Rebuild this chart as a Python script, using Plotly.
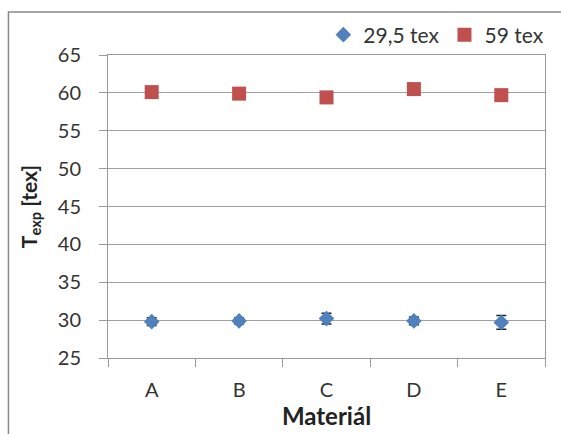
import plotly.graph_objects as go

categories = ["A", "B", "C", "D", "E"]
tex29_vals = [29.8, 29.9, 30.2, 29.9, 29.7]
tex29_err = [0.5, 0.4, 0.7, 0.5, 0.9]
tex59_vals = [60.1, 59.9, 59.4, 60.5, 59.7]
tex59_err = [0.3, 0.3, 0.3, 0.3, 0.3]

W, H = 561, 434
L, R, T, B = 108, 14, 55, 76
pw, ph = W - L - R, H - T - B

fig = go.Figure()
fig.add_trace(go.Scatter(
    x=categories, y=tex29_vals, mode="markers", name="29,5 tex",
    marker=dict(symbol="diamond", size=12, color="#4F81BD"),
    error_y=dict(type="data", array=tex29_err, color="#222222", thickness=1.5, width=5),
))
fig.add_trace(go.Scatter(
    x=categories, y=tex59_vals, mode="markers", name="59 tex",
    marker=dict(symbol="square", size=14, color="#C0504D"),
    error_y=dict(type="data", array=tex59_err, color="#222222", thickness=1.5, width=5),
))

font = "Lato, 'Open Sans', sans-serif"
fig.update_layout(
    width=W, height=H,
    margin=dict(l=L, r=R, t=T, b=B),
    paper_bgcolor="white", plot_bgcolor="white",
    font=dict(family=font, size=20, color="#333333"),
    showlegend=True,
    legend=dict(orientation="h", x=1.01, xanchor="right", y=(H - B - 35) / ph, yanchor="middle",
                font=dict(size=21), itemwidth=30, tracegroupgap=0, bgcolor="rgba(0,0,0,0)"),
    xaxis=dict(
        type="category", showgrid=False, ticks="outside", tickson="boundaries",
        ticklen=8, tickcolor="#999999", showline=True, linecolor="#999999", linewidth=1,
        mirror=True, range=[-0.5, 4.5], ticklabelstandoff=14,
        title=dict(text="<b>Materiál</b>", font=dict(size=24, color="#222222"), standoff=2),
    ),
    yaxis=dict(
        range=[25, 65], dtick=5, showgrid=True, gridcolor="#a0a0a0", gridwidth=1,
        ticks="outside", ticklen=8, tickcolor="#999999", showline=True,
        linecolor="#999999", mirror=True, zeroline=False, ticklabelstandoff=14,
        title=dict(text="<b>T<sub>exp</sub> [tex]</b>", font=dict(size=21, color="#222222"), standoff=14),
    ),
    shapes=[dict(type="rect", xref="paper", yref="paper",
                 x0=-(L - 8) / pw, x1=(W - L + 20) / pw,
                 y0=-(B + 20) / ph, y1=(H - B - 12) / ph,
                 line=dict(color="#888888", width=1.5), fillcolor="rgba(0,0,0,0)", layer="below")],
)
fig.write_html("out.html")
